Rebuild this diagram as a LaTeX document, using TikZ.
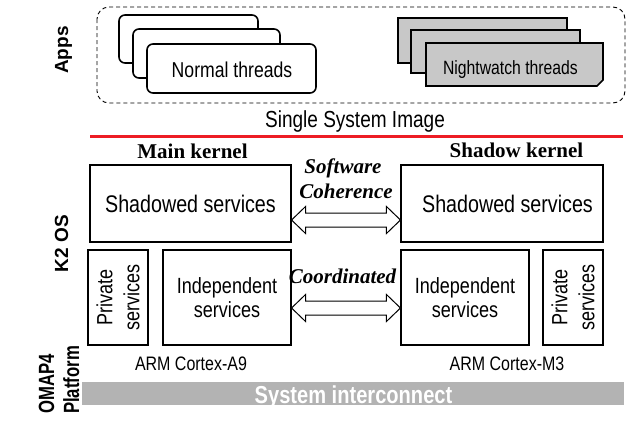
\documentclass[tikz,border=0pt]{standalone}
\usepackage{fontspec}
\setmainfont{Liberation Sans}
\newfontfamily\narrowsf{Liberation Sans}[FakeStretch=0.82]
\newfontfamily\tightsf{Liberation Sans}[FakeStretch=0.76]
\newfontfamily\timesf{Liberation Serif}
\usetikzlibrary{calc}
\definecolor{cardgray}{RGB}{200,200,200}
\definecolor{bargray}{RGB}{179,179,179}
\definecolor{divred}{RGB}{237,28,36}
\newcommand{\pxsize}[1]{\fontsize{#1}{#1}\selectfont}
% thread card with a snipped bottom-right corner
\newcommand{\snipcard}[4]{\draw[ncard] (#1,#2) -- (#3,#2) -- (#3,#4-6) -- (#3-6,#4) -- (#1,#4) -- cycle;}
% outlined double-headed block arrow between two named points
\newcommand{\dblarrow}[2]{%
  \draw[dbl] let \p1=(#1), \p2=(#2) in
    (\x1,\y1) -- (\x1+14pt,\y1+13.5pt) -- (\x1+14pt,\y1+7pt) -- (\x2-14pt,\y1+7pt)
    -- (\x2-14pt,\y1+13.5pt) -- (\x2,\y1) -- (\x2-14pt,\y1-13.5pt) -- (\x2-14pt,\y1-7pt)
    -- (\x1+14pt,\y1-7pt) -- (\x1+14pt,\y1-13.5pt) -- cycle;}
\begin{document}
\begin{tikzpicture}[x=1pt,y=-1pt,
  card/.style={draw, line width=1.6pt, rounded corners=6pt, fill=white},
  ncard/.style={draw, line width=1.6pt, line join=miter, fill=cardgray},
  svc/.style={draw, line width=1.1pt, inner sep=0pt},
  svctext/.style={font=\narrowsf\pxsize{24}},
  smalltext/.style={font=\narrowsf\fontsize{22}{24}\selectfont, align=center},
  kernel/.style={font=\timesf\bfseries\pxsize{21}, anchor=base},
  coher/.style={font=\timesf\bfseries\itshape\pxsize{21}, anchor=base},
  side/.style={font=\bfseries\pxsize{19}, rotate=90, anchor=base},
  dbl/.style={draw, line width=1pt, fill=white, line join=miter}]
\useasboundingbox (0,0) rectangle (635,426);

% application layer
\draw[dashed, line width=0.9pt, dash pattern=on 4pt off 3pt, rounded corners=12pt]
  (97,7) rectangle (625,103);
\draw[card] (119,15) rectangle (258,63);
\draw[card] (133,29) rectangle (280,78);
\draw[card] (147,44) rectangle (316,93);
\node[font=\narrowsf\pxsize{21.5}, anchor=base] (normal) at (232,77) {Normal threads};
\snipcard{398}{18}{567}{63}
\snipcard{411}{30}{580}{73}
\snipcard{426}{43}{603}{86}
\node[font=\narrowsf\pxsize{19.2}, anchor=base] (nightwatch) at (510.5,74) {Nightwatch threads};

\node[font=\narrowsf\pxsize{23.2}, anchor=base] (ssi) at (355,127) {Single System Image};
\draw[divred, line width=3pt] (90,136) -- (623,136);

% kernels
\node[kernel] (mk) at (192.5,158) {Main kernel};
\node[kernel] (sk) at (516.5,157) {Shadow kernel};

\node[svc, minimum width=201pt, minimum height=77pt, svctext] (lsh) at (190.5,203.5) {Shadowed services};
\node[svc, minimum width=202pt, minimum height=77pt] (rsh) at (502,203.5) {};
\node[svctext] (rshtext) at (507.5,203.5) {Shadowed services};

\node[svc, minimum width=60pt, minimum height=95pt] (lpv) at (118,297.5) {};
\node[smalltext, rotate=90, font=\narrowsf\fontsize{22}{27}\selectfont] (lpvtext) at (lpv) {Private\\services};
\node[svc, minimum width=128pt, minimum height=95pt, smalltext] (lind) at (227,297.5) {Independent\\services};
\node[svc, minimum width=128pt, minimum height=95pt, smalltext] (rind) at (465,297.5) {Independent\\services};
\node[svc, minimum width=60pt, minimum height=95pt] (rpv) at (573,297.5) {};
\node[smalltext, rotate=90, font=\narrowsf\fontsize{22}{27}\selectfont] (rpvtext) at (rpv) {Private\\services};

% coherence links between the kernels
\node[coher] (sw) at (343,173) {Software};
\node[coher] (coh) at (346,198) {Coherence};
\coordinate (swL) at (lsh.east |- 0,220);
\coordinate (swR) at (rsh.west |- 0,220);
\dblarrow{swL}{swR}
\node[coher] (coord) at (342.5,283) {Coordinated};
\coordinate (coL) at (lind.east |- 0,308);
\coordinate (coR) at (rind.west |- 0,308);
\dblarrow{coL}{coR}

% platform
\node[font=\narrowsf\pxsize{19.5}, anchor=base] (a9) at (191,370) {ARM Cortex-A9};
\node[font=\narrowsf\pxsize{19.5}, anchor=base] (m3) at (507,370) {ARM Cortex-M3};
\node[fill=bargray, minimum width=542pt, minimum height=23pt, inner sep=0pt] (bus) at (353,393.5) {};
\node[font=\narrowsf\bfseries\pxsize{24.5}, text=white, anchor=base] (bustext) at (353.5,403) {System interconnect};

% layer labels
\node[side] (apps) at (68,50) {Apps};
\node[side] (k2) at (68,243.5) {K2 OS};
\node[side, font=\tightsf\bfseries\pxsize{22}] (omap) at (54,384) {OMAP4};
\node[side, font=\tightsf\bfseries\pxsize{22}] (plat) at (79,380) {Platform};
\end{tikzpicture}
\end{document}
